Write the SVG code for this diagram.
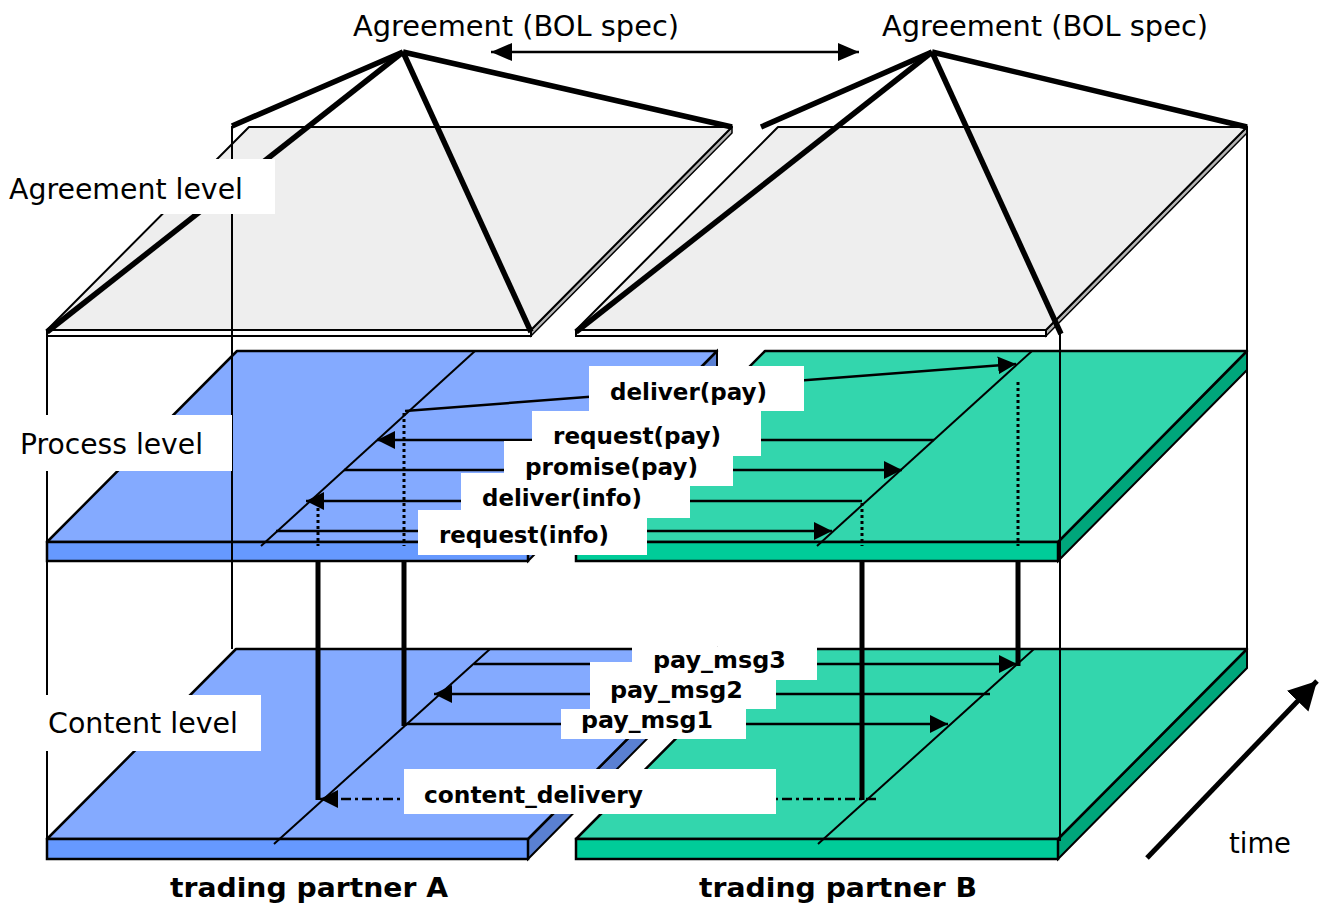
<svg xmlns="http://www.w3.org/2000/svg" width="1321" height="905" viewBox="0 0 1321 905">
<style>
.agr{fill:#EEEEEE;stroke:#000;stroke-width:2;stroke-linejoin:round}
.agrF{fill:#FFFFFF;stroke:#000;stroke-width:2}
.agrS{fill:#B4B4B4;stroke:#000;stroke-width:1.5}
.bT{fill:#84AAFF;stroke:#000;stroke-width:2.5;stroke-linejoin:round}
.bF{fill:#6699FF;stroke:#000;stroke-width:2.5}
.bS{fill:#5A80D2;stroke:#000;stroke-width:2}
.gT{fill:#33D6AD;stroke:#000;stroke-width:2.5;stroke-linejoin:round}
.gF{fill:#00CC99;stroke:#000;stroke-width:2.5}
.gS{fill:#00A67B;stroke:#000;stroke-width:2}
.roof{stroke:#000;stroke-width:5.5;stroke-linecap:butt;fill:none}
.wire{stroke:#000;stroke-width:2;fill:none}
.tl{stroke:#000;stroke-width:2;fill:none}
.msg{stroke:#000;stroke-width:2.5;fill:none}
.dot{stroke:#000;stroke-width:3;stroke-dasharray:3 3;fill:none}
.thick{stroke:#000;stroke-width:5;fill:none}
.dashdot{stroke:#000;stroke-width:2.5;stroke-dasharray:10 4 3 4;fill:none}
.box{fill:#FFFFFF;stroke:none}
.lvl{font-family:"DejaVu Sans",Verdana,sans-serif;font-size:28px;fill:#000}
.lab{font-family:"DejaVu Sans",Verdana,sans-serif;font-size:22.5px;font-weight:bold;fill:#000}
.part{font-family:"DejaVu Sans",Verdana,sans-serif;font-size:27px;font-weight:bold;fill:#000}
</style>
<defs>
<marker id="ah" markerUnits="userSpaceOnUse" markerWidth="20" markerHeight="20" refX="18" refY="9" orient="auto">
<path d="M0,0 L18,9 L0,18 z" fill="#000"/>
</marker>
<marker id="ahs" markerUnits="userSpaceOnUse" markerWidth="24" markerHeight="20" refX="21" refY="9" orient="auto-start-reverse">
<path d="M0,0 L21,9 L0,18 z" fill="#000"/>
</marker>
<marker id="ahb" markerUnits="userSpaceOnUse" markerWidth="32" markerHeight="32" refX="28" refY="15" orient="auto">
<path d="M0,0 L28,15 L0,30 z" fill="#000"/>
</marker>
</defs>

<!-- Agreement level slabs -->
<g id="agreement-A">
<polygon class="agrS" points="531,330 732,127 732,133 531,336"/>
<polygon class="agr" points="249,127 732,127 531,330 47,330"/>
<rect class="agrF" x="47" y="330" width="484" height="6"/>
</g>
<g id="agreement-B">
<polygon class="agrS" points="1046,330 1247,127 1247,133 1046,336"/>
<polygon class="agr" points="778,127 1247,127 1046,330 576,330"/>
<rect class="agrF" x="576" y="330" width="470" height="6"/>
</g>

<!-- Process level slabs -->
<g id="process-A">
<polygon class="bS" points="528,542 717,351 717,370 528,561"/>
<polygon class="bT" points="237,351 717,351 528,542 47,542"/>
<rect class="bF" x="47" y="542" width="481" height="19"/>
<line class="tl" x1="475" y1="351" x2="261" y2="546"/>
</g>
<g id="process-B">
<polygon class="gS" points="1058,542 1247,351 1247,370 1058,561"/>
<polygon class="gT" points="765,351 1247,351 1058,542 576,542"/>
<rect class="gF" x="576" y="542" width="482" height="19"/>
<line class="tl" x1="1032" y1="351" x2="817" y2="546"/>
</g>

<!-- Content level slabs -->
<g id="content-A">
<polygon class="bS" points="528,839 717,649 717,668 528,859"/>
<polygon class="bT" points="236,649 717,649 528,839 47,839"/>
<rect class="bF" x="47" y="839" width="481" height="20"/>
<line class="tl" x1="490" y1="649" x2="274" y2="844"/>
</g>
<g id="content-B">
<polygon class="gS" points="1058,839 1247,649 1247,668 1058,859"/>
<polygon class="gT" points="765,649 1247,649 1058,839 576,839"/>
<rect class="gF" x="576" y="839" width="482" height="20"/>
<line class="tl" x1="1034" y1="649" x2="818" y2="844"/>
</g>

<!-- Wireframe verticals -->
<g id="frame">
<line class="wire" x1="47" y1="332" x2="47" y2="839"/>
<line class="wire" x1="232" y1="126" x2="232" y2="649"/>
<line class="wire" x1="1060" y1="334" x2="1060" y2="841"/>
<line class="wire" x1="1247" y1="127" x2="1247" y2="649"/>
</g>

<!-- Agreement roofs -->
<g id="roof-A">
<line class="roof" x1="403" y1="52" x2="232" y2="126"/>
<line class="roof" x1="403" y1="52" x2="47" y2="332"/>
<line class="roof" x1="403" y1="52" x2="531" y2="332"/>
<line class="roof" x1="403" y1="52" x2="732" y2="127"/>
</g>
<g id="roof-B">
<line class="roof" x1="932" y1="52" x2="761" y2="127"/>
<line class="roof" x1="932" y1="52" x2="576" y2="332"/>
<line class="roof" x1="932" y1="52" x2="1061" y2="334"/>
<line class="roof" x1="932" y1="52" x2="1247" y2="127"/>
</g>

<!-- Connectors -->
<g id="connectors">
<line class="msg" x1="491" y1="52" x2="859" y2="52" stroke-width="2" marker-start="url(#ahs)" marker-end="url(#ahs)"/>
<!-- process level -->
<line class="msg" x1="405" y1="411" x2="1016" y2="364" marker-end="url(#ah)"/>
<line class="msg" x1="934" y1="440" x2="377" y2="440" marker-end="url(#ah)"/>
<line class="msg" x1="344" y1="470" x2="902" y2="470" marker-end="url(#ah)"/>
<line class="msg" x1="862" y1="501" x2="306" y2="501" marker-end="url(#ah)"/>
<line class="msg" x1="276" y1="531" x2="832" y2="531" marker-end="url(#ah)"/>
<!-- dotted drops -->
<line class="dot" x1="404" y1="413" x2="404" y2="546"/>
<line class="dot" x1="1018" y1="382" x2="1018" y2="546"/>
<line class="dot" x1="862" y1="503" x2="862" y2="546"/>
<line class="dot" x1="318" y1="508" x2="318" y2="546"/>
<!-- thick links between levels -->
<line class="thick" x1="318" y1="561" x2="318" y2="800"/>
<line class="thick" x1="404" y1="561" x2="404" y2="726"/>
<line class="thick" x1="862" y1="561" x2="862" y2="800"/>
<line class="thick" x1="1018" y1="561" x2="1018" y2="666"/>
<!-- content level -->
<line class="msg" x1="474" y1="664" x2="1017" y2="664" marker-end="url(#ah)"/>
<line class="msg" x1="990" y1="694" x2="434" y2="694" marker-end="url(#ah)"/>
<line class="msg" x1="404" y1="724" x2="948" y2="724" marker-end="url(#ah)"/>
<line class="dashdot" x1="876" y1="799" x2="320" y2="799" marker-end="url(#ah)"/>
<!-- time -->
<line class="thick" x1="1147" y1="858" x2="1317" y2="681" marker-end="url(#ahb)"/>
</g>

<!-- Labels -->
<g id="label-agreement-left">
<text class="lvl" x="353" y="36" textLength="326" lengthAdjust="spacingAndGlyphs">Agreement (BOL spec)</text>
</g>
<g id="label-agreement-right">
<text class="lvl" x="882" y="36" textLength="326" lengthAdjust="spacingAndGlyphs">Agreement (BOL spec)</text>
</g>
<g id="label-agreement-level">
<rect class="box" x="0" y="159" width="275" height="55"/>
<text class="lvl" x="9" y="199" textLength="234" lengthAdjust="spacingAndGlyphs">Agreement level</text>
</g>
<g id="label-process-level">
<rect class="box" x="8" y="415" width="224" height="56"/>
<text class="lvl" x="20" y="454" textLength="183" lengthAdjust="spacingAndGlyphs">Process level</text>
</g>
<g id="label-content-level">
<rect class="box" x="40" y="695" width="221" height="56"/>
<text class="lvl" x="48" y="733" textLength="190" lengthAdjust="spacingAndGlyphs">Content level</text>
</g>

<g id="label-request-info">
<rect class="box" x="418" y="510" width="229" height="45"/>
<text class="lab" x="439" y="543" textLength="170" lengthAdjust="spacingAndGlyphs">request(info)</text>
</g>
<g id="label-deliver-info">
<rect class="box" x="461" y="473" width="229" height="45"/>
<text class="lab" x="482" y="506" textLength="160" lengthAdjust="spacingAndGlyphs">deliver(info)</text>
</g>
<g id="label-promise-pay">
<rect class="box" x="504" y="441" width="229" height="45"/>
<text class="lab" x="525" y="475" textLength="173" lengthAdjust="spacingAndGlyphs">promise(pay)</text>
</g>
<g id="label-request-pay">
<rect class="box" x="532" y="411" width="229" height="45"/>
<text class="lab" x="553" y="444" textLength="168" lengthAdjust="spacingAndGlyphs">request(pay)</text>
</g>
<g id="label-deliver-pay">
<rect class="box" x="589" y="366" width="215" height="45"/>
<text class="lab" x="610" y="400" textLength="157" lengthAdjust="spacingAndGlyphs">deliver(pay)</text>
</g>

<g id="label-pay-msg1">
<rect class="box" x="561" y="709" width="185" height="30"/>
<text class="lab" x="581" y="728" textLength="132" lengthAdjust="spacingAndGlyphs">pay_msg1</text>
</g>
<g id="label-pay-msg2">
<rect class="box" x="590" y="662" width="186" height="47"/>
<text class="lab" x="610" y="698" textLength="133" lengthAdjust="spacingAndGlyphs">pay_msg2</text>
</g>
<g id="label-pay-msg3">
<rect class="box" x="632" y="647" width="185" height="33"/>
<text class="lab" x="653" y="668" textLength="133" lengthAdjust="spacingAndGlyphs">pay_msg3</text>
</g>
<g id="label-content-delivery">
<rect class="box" x="404" y="769" width="372" height="45"/>
<text class="lab" x="424" y="803" textLength="219" lengthAdjust="spacingAndGlyphs">content_delivery</text>
</g>

<g id="label-partner-A">
<text class="part" x="170" y="897" textLength="278" lengthAdjust="spacingAndGlyphs">trading partner A</text>
</g>
<g id="label-partner-B">
<text class="part" x="699" y="897" textLength="278" lengthAdjust="spacingAndGlyphs">trading partner B</text>
</g>
<g id="label-time">
<text class="lvl" x="1229" y="853" textLength="62" lengthAdjust="spacingAndGlyphs">time</text>
</g>
</svg>
